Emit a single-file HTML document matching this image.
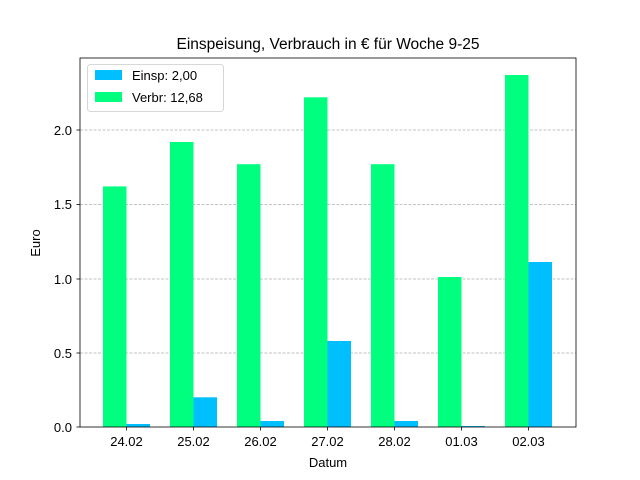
<!DOCTYPE html>
<html><head><meta charset="utf-8"><style>
body{margin:0;background:#fff;}
svg{display:block;font-family:"Liberation Sans","DejaVu Sans",sans-serif;}
</style></head><body>
<svg width="640" height="480" viewBox="0 0 640 480" xmlns="http://www.w3.org/2000/svg">
<rect width="640" height="480" fill="#fff"/>
<g stroke="#b0b0b0" stroke-width="0.8" stroke-dasharray="3,1.5">
<line x1="80" x2="576" y1="353" y2="353"/>
<line x1="80" x2="576" y1="279" y2="279"/>
<line x1="80" x2="576" y1="204.5" y2="204.5"/>
<line x1="80" x2="576" y1="130" y2="130"/>
</g>
<g fill="#00FF7F">
<rect x="103" y="186.4" width="23.5" height="240.6"/>
<rect x="170" y="142" width="23.5" height="285"/>
<rect x="237" y="164.2" width="23.5" height="262.8"/>
<rect x="304" y="97.3" width="23.5" height="329.7"/>
<rect x="371" y="164.2" width="23.5" height="262.8"/>
<rect x="438" y="277" width="23.5" height="150"/>
<rect x="505" y="75" width="23.5" height="352"/>
</g>
<g fill="#00BFFF">
<rect x="126.5" y="424" width="23.5" height="3"/>
<rect x="193.5" y="397.3" width="23.5" height="29.7"/>
<rect x="260.5" y="421" width="23.5" height="6"/>
<rect x="327.5" y="341" width="23.5" height="86"/>
<rect x="394.5" y="421" width="23.5" height="6"/>
<rect x="461.5" y="426" width="23.5" height="1"/>
<rect x="528.5" y="262" width="23.5" height="165"/>
</g>
<rect x="80" y="58" width="496" height="369" fill="none" stroke="#000" stroke-width="0.8"/>
<g stroke="#000" stroke-width="0.8">
<line x1="80" x2="76.5" y1="427" y2="427"/>
<line x1="80" x2="76.5" y1="353" y2="353"/>
<line x1="80" x2="76.5" y1="279" y2="279"/>
<line x1="80" x2="76.5" y1="204.5" y2="204.5"/>
<line x1="80" x2="76.5" y1="130" y2="130"/>
<line x1="126.5" x2="126.5" y1="427" y2="430.5"/>
<line x1="193.5" x2="193.5" y1="427" y2="430.5"/>
<line x1="260.5" x2="260.5" y1="427" y2="430.5"/>
<line x1="327.5" x2="327.5" y1="427" y2="430.5"/>
<line x1="394.5" x2="394.5" y1="427" y2="430.5"/>
<line x1="461.5" x2="461.5" y1="427" y2="430.5"/>
<line x1="528.5" x2="528.5" y1="427" y2="430.5"/>
</g>
<g font-size="13" text-anchor="end">
<text x="72" y="432">0.0</text>
<text x="72" y="358">0.5</text>
<text x="72" y="284">1.0</text>
<text x="72" y="209">1.5</text>
<text x="72" y="135">2.0</text>
</g>
<g font-size="13" text-anchor="middle">
<text x="126.5" y="446">24.02</text>
<text x="193.5" y="446">25.02</text>
<text x="260.5" y="446">26.02</text>
<text x="327.5" y="446">27.02</text>
<text x="394.5" y="446">28.02</text>
<text x="461.5" y="446">01.03</text>
<text x="528.5" y="446">02.03</text>
<text x="328" y="467">Datum</text>
<text x="328" y="49" font-size="15.5">Einspeisung, Verbrauch in € für Woche 9-25</text>
<text transform="translate(40,243) rotate(-90)">Euro</text>
</g>
<rect x="87.5" y="64.5" width="136" height="47" rx="3" fill="#fff" fill-opacity="0.8" stroke="#ccc" stroke-width="0.8"/>
<rect x="95" y="70" width="27" height="10" fill="#00BFFF"/>
<rect x="95" y="92" width="27" height="10" fill="#00FF7F"/>
<text x="132" y="80" font-size="13">Einsp: 2,00</text>
<text x="132" y="102" font-size="13">Verbr: 12,68</text>
</svg>
</body></html>
